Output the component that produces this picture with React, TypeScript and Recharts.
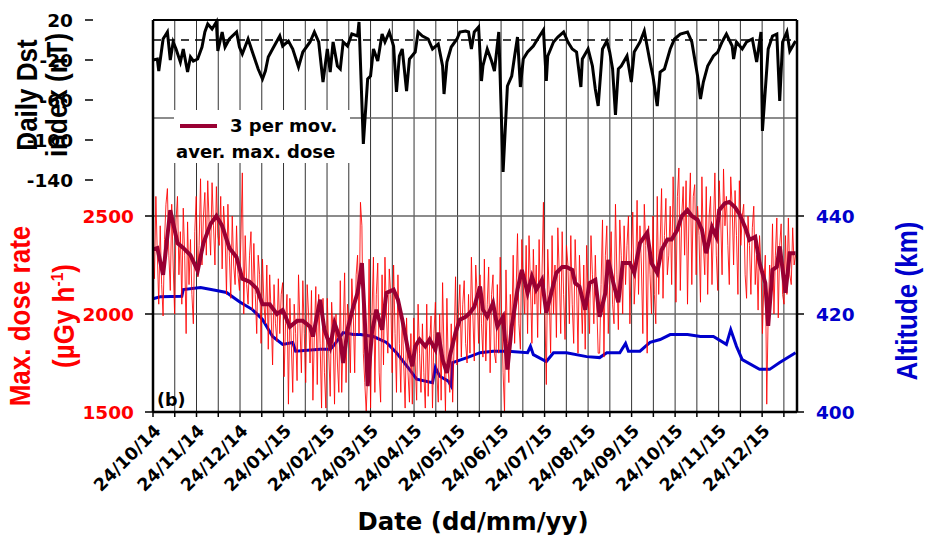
import React from 'react';
import { ComposedChart, Line, XAxis, YAxis, CartesianGrid, ReferenceLine, Legend } from 'recharts';

// x values are day offsets counted from 24/10/14
const dateLabels = [
  '24/10/14', '24/11/14', '24/12/14', '24/01/15', '24/02/15', '24/03/15', '24/04/15', '24/05/15',
  '24/06/15', '24/07/15', '24/08/15', '24/09/15', '24/10/15', '24/11/15', '24/12/15',
];
const dstTicks = [20, -20, -60, -100, -140];
const doseTicks = [1500, 2000, 2500];
const doseGridLines = [2000, 2500, 3000];
const altTicks = [400, 420, 440];

// daily Dst index (nT): [day, value]
const dstIndex: [number, number][] = [
  [0, -20], [3, -19], [4, -31], [7, 1], [10, 8], [12, -20], [14, -2], [16, -9], [19, -22], [21, -9],
  [24, -32], [26, -17], [28, -21], [31, -19], [34, -7], [36, 8], [38, 16], [41, 11], [44, 18], [45, -11],
  [48, 8], [50, -7], [53, 1], [58, 8], [60, -7], [62, -14], [66, 1], [69, -12], [73, -29], [76, -39],
  [78, -31], [80, -17], [83, -9], [88, 4], [90, -6], [94, -1], [97, -9], [101, -27], [104, -12], [109, -2],
  [112, 8], [115, -2], [118, -42], [121, -9], [123, -32], [125, -2], [128, -26], [130, -29], [132, -2], [135, -6],
  [138, 6], [142, 4], [143, 18], [146, -104], [149, -39], [151, -36], [153, -9], [156, -21], [159, 6], [161, -2],
  [164, 8], [167, -6], [169, -52], [171, -16], [173, -9], [176, -51], [178, -19], [182, -12], [184, 8], [187, 4],
  [191, 1], [194, -9], [198, -4], [201, -26], [202, -54], [204, -22], [207, -7], [211, 1], [213, 8], [217, 9],
  [219, 8], [221, -9], [223, 8], [226, 13], [228, -41], [229, -26], [232, -9], [235, -21], [237, -31], [240, 8],
  [243, -132], [246, -46], [249, -36], [251, -16], [253, 3], [255, -47], [257, -19], [260, -12], [264, -6], [267, 1],
  [271, 10], [273, -41], [274, -16], [278, -2], [281, 3], [285, 8], [288, -2], [291, -9], [294, -12], [297, -47],
  [298, -19], [302, -9], [305, -26], [307, -49], [309, -66], [312, -9], [315, -1], [317, -12], [319, -29], [321, -75],
  [323, -29], [325, -26], [329, -16], [332, -42], [334, -12], [338, -2], [341, 9], [345, -22], [347, -36], [350, -66],
  [352, -32], [355, -29], [359, -9], [362, 1], [366, 6], [371, 8], [374, -2], [378, -36], [380, -59], [382, -42],
  [385, -26], [389, -16], [392, -12], [395, -2], [398, 6], [402, -6], [403, -19], [405, -2], [409, -9], [412, -2],
  [416, 1], [419, -22], [422, 8], [423, -91], [427, -9], [430, 4], [433, 6], [435, -61], [437, -2], [440, 8],
  [442, -11], [444, -6], [446, -1],
];

// daily max. dose rate (uGy/h) from day 0, ten days per row
const maxDose = [
  2350, 2180, 2600, 2300, 2050, 2450, 2150, 1990, 2380, 2560,
  2640, 2300, 2120, 2560, 2250, 2000, 2480, 2600, 2200, 2420,
  2050, 2540, 2300, 1900, 2470, 2150, 2380, 2100, 1950, 2420,
  2600, 2190, 2350, 2690, 2250, 2500, 2620, 2300, 2680, 2450,
  2300, 2670, 2450, 2250, 2650, 2400, 2350, 2600, 2230, 2550,
  2420, 2100, 2560, 2300, 2080, 2500, 2250, 2150, 2450, 2200,
  2120, 2380, 2720, 2000, 2400, 2150, 2050, 2300, 2420, 2020,
  2360, 2100, 1900, 2300, 2200, 1850, 2280, 2050, 1950, 2250,
  1820, 2200, 2000, 1740, 2150, 1950, 1860, 2180, 1900, 2100,
  2160, 1680, 1950, 2100, 1540, 2080, 1850, 1600, 2050, 1900,
  1660, 2200, 1950, 1700, 2170, 1900, 1650, 2150, 2000, 1750,
  2120, 1560, 1900, 2140, 1640, 2100, 1850, 1520, 2080, 1700,
  1520, 2080, 1800, 1580, 2060, 1900, 1540, 2000, 1750, 1600,
  2170, 1600, 1900, 2210, 1650, 2050, 1950, 1700, 2180, 2000,
  1700, 2200, 2300, 1900, 2570, 2450, 1800, 1650, 1500, 1700,
  2280, 1520, 2000, 2290, 1600, 2100, 2260, 1700, 1550, 2200,
  1740, 2290, 2000, 1800, 2230, 2100, 1700, 2250, 1900, 1600,
  2200, 1850, 1600, 2000, 1750, 1520, 1980, 1700, 1550, 1900,
  1540, 1980, 1750, 1560, 2050, 1800, 1600, 1950, 1700, 1520,
  2050, 1580, 1850, 1990, 1520, 1900, 2060, 1700, 1550, 2000,
  1560, 2160, 1800, 1500, 2080, 1700, 1600, 1950, 1550, 1850,
  2190, 1740, 2000, 2150, 1780, 2050, 2170, 1850, 1750, 2100,
  1800, 2290, 2000, 1760, 2250, 2100, 1850, 2200, 1950, 1780,
  2280, 1760, 2050, 2240, 1700, 2100, 2200, 1800, 1750, 2150,
  1800, 2290, 2000, 1700, 1500, 2225, 1850, 1650, 2100, 1900,
  2300, 1850, 2100, 2410, 1950, 1820, 2380, 2150, 2000, 2350,
  1900, 2400, 2150, 1850, 2330, 2050, 2250, 1880, 2380, 2000,
  2200, 2570, 2000, 1640, 2330, 2100, 1800, 2400, 2000, 2250,
  1880, 2440, 2200, 1900, 2420, 2100, 1870, 2350, 2250, 1950,
  2400, 2050, 1850, 2380, 2150, 1800, 2300, 2100, 1900, 2250,
  1820, 2350, 2100, 1900, 2400, 2200, 1950, 2300, 2050, 1800,
  1800, 2150, 2480, 1780, 2300, 2450, 1900, 2150, 2420, 2050,
  1950, 2560, 2200, 1920, 2480, 2300, 2000, 2450, 2150, 2350,
  2500, 1950, 2300, 2520, 2050, 2200, 2580, 2100, 2450, 2250,
  1900, 2560, 2350, 1800, 2450, 2200, 2000, 2500, 2100, 1950,
  2600, 2100, 2350, 2640, 2080, 2400, 2590, 2200, 2300, 2550,
  2150, 2700, 2400, 2060, 2600, 2745, 2120, 2500, 2650, 2300,
  2680, 2050, 2500, 2720, 2150, 2600, 2660, 2200, 2550, 2400,
  2060, 2700, 2350, 2200, 2650, 2100, 2500, 2600, 2150, 2450,
  2720, 2300, 2120, 2680, 2500, 2200, 2740, 2450, 2600, 2350,
  2150, 2700, 2550, 2250, 2630, 2400, 2100, 2680, 2350, 2500,
  2560, 2200, 2080, 2500, 2350, 2100, 2440, 2550, 2150, 2300,
  2020, 2400, 2250, 1900, 2150, 2300, 1540, 2000, 2250, 2100,
  2460, 2000, 2300, 2490, 1980, 2350, 2460, 2100, 2050, 2400,
  2100, 2490, 2200, 2150, 2440, 2250, 2300,
];

// 3 period moving average of max. dose rate: [day, value]
const doseMovAvg: [number, number][] = [
  [0, 2330], [3, 2337], [7, 2200], [12, 2530], [17, 2362], [21, 2337], [26, 2300], [31, 2220], [35, 2362], [40, 2460],
  [44, 2500], [48, 2450], [53, 2337], [58, 2290], [62, 2180], [67, 2165], [72, 2130], [76, 2050], [81, 2050], [86, 2000],
  [90, 2020], [95, 1935], [100, 1965], [104, 1965], [109, 1935], [111, 1885], [116, 2073], [119, 1920], [123, 1835], [126, 1954],
  [130, 1870], [132, 1750], [135, 1920], [139, 2037], [142, 2108], [145, 2260], [147, 1971], [149, 1632], [152, 1905], [155, 2022],
  [159, 1920], [162, 2108], [167, 2124], [170, 2073], [173, 1971], [177, 1818], [180, 1733], [182, 1835], [185, 1870], [189, 1835],
  [192, 1870], [196, 1818], [198, 1905], [201, 1767], [204, 1700], [206, 1784], [210, 1905], [213, 1971], [217, 1986], [220, 2006],
  [223, 2037], [227, 2140], [229, 2022], [232, 1986], [236, 2056], [239, 1937], [243, 1986], [246, 1717], [249, 1937], [253, 2124],
  [256, 2225], [260, 2108], [263, 2190], [266, 2124], [270, 2174], [273, 2006], [277, 2124], [280, 2210], [284, 2240], [287, 2240],
  [291, 2225], [293, 2158], [296, 2140], [300, 2022], [303, 2158], [307, 2174], [310, 1986], [314, 2108], [316, 2276], [319, 2174],
  [323, 2060], [326, 2260], [331, 2260], [334, 2210], [338, 2362], [343, 2414], [346, 2260], [350, 2210], [353, 2327], [357, 2380],
  [360, 2380], [364, 2430], [367, 2500], [371, 2530], [374, 2500], [378, 2480], [381, 2430], [384, 2310], [388, 2443], [391, 2394],
  [393, 2530], [397, 2565], [400, 2572], [404, 2545], [407, 2510], [411, 2443], [414, 2378], [418, 2394], [421, 2260], [425, 2158],
  [427, 1940], [430, 2225], [433, 2240], [435, 2345], [439, 2108], [442, 2310], [446, 2310],
];

// ISS altitude (km): [day, value]
const altitude: [number, number][] = [
  [0, 423.1], [5, 423.5], [20, 423.6], [21, 425.0], [33, 425.4], [44, 424.8], [51, 424.4], [60, 422.5], [69, 420.9], [76, 418.9],
  [83, 415.4], [90, 413.8], [97, 414.2], [99, 412.4], [116, 412.8], [123, 412.8], [125, 413.4], [132, 416.2], [139, 415.8], [144, 415.8],
  [153, 415.4], [162, 414.2], [169, 412.1], [178, 408.7], [183, 406.7], [194, 406.0], [196, 409.1], [199, 407.3], [205, 406.3], [207, 405.3],
  [208, 410.1], [218, 411.1], [227, 412.1], [236, 412.4], [246, 412.4], [260, 412.1], [262, 413.4], [264, 411.7], [273, 410.3], [278, 412.1],
  [287, 412.1], [301, 411.3], [310, 411.1], [315, 412.1], [324, 412.1], [328, 414.0], [330, 412.4], [338, 412.4], [345, 414.2], [352, 414.8],
  [359, 415.8], [371, 415.8], [380, 415.4], [389, 415.4], [398, 413.8], [401, 416.8], [405, 413.4], [409, 410.7], [421, 408.7], [428, 408.7],
  [435, 410.1], [446, 412.1],
];

const DAY_MAX = 447;
const GRID_STEP = 15.1; // half-month tick spacing, every second tick is labelled
const gridTicks = Array.from({ length: 30 }, (_, k) => k * GRID_STEP);

const MA_NAME = '3 per mov. aver. max. dose';
const NUM_FONT = '"DejaVu Sans", sans-serif';
const TITLE_FONT = '"Liberation Sans", Arial, sans-serif';
const RED = '#ff0000';
const BLUE = '#0000cc';
const MA_COLOR = '#990033';

const toPoints = (pairs: [number, number][]) => pairs.map(([day, v]) => ({ day, v }));
const dstData = toPoints(dstIndex);
const maData = toPoints(doseMovAvg);
const altData = toPoints(altitude);
const doseData = maxDose.map((v, day) => ({ day, v }));

const tickFont = (fill: string, size = 18.5) => ({ fontFamily: NUM_FONT, fontWeight: 700, fontSize: size, fill });

const LegendBox = (props: any) => {
  const item = (props.payload || []).find((p: any) => p.value === MA_NAME);
  const color = item ? item.color : MA_COLOR;
  return (
    <div style={{ width: 176, height: 53, background: '#fff', position: 'relative', fontFamily: NUM_FONT, fontWeight: 700, fontSize: 18, color: '#000', lineHeight: '27px' }}>
      <div style={{ position: 'absolute', left: 6, top: 14, width: 37, height: 3.5, background: color }} />
      <div style={{ position: 'absolute', left: 56, top: 2, whiteSpace: 'nowrap' }}>3 per mov.</div>
      <div style={{ position: 'absolute', left: 2, top: 28, whiteSpace: 'nowrap' }}>aver. max. dose</div>
    </div>
  );
};

const VTitle = ({ x, y, color, lines, gap }: { x: number; y: number; color: string; lines: React.ReactNode[]; gap: number }) => (
  <div style={{ position: 'absolute', left: x, top: y, width: 0, height: 0, transform: 'scaleX(1.1) rotate(-90deg)' }}>
    <div style={{ position: 'absolute', left: 0, top: 0, transform: 'translate(-50%, -50%)', whiteSpace: 'nowrap', textAlign: 'center', fontFamily: TITLE_FONT, fontWeight: 700, fontSize: 26, lineHeight: `${gap}px`, color }}>
      {lines.map((l, i) => <div key={i}>{l}</div>)}
    </div>
  </div>
);

export default function App() {
  return (
    <div style={{ position: 'relative', width: 928, height: 538, background: '#fff' }}>
      <style>{'body{margin:0}'}</style>
      <ComposedChart width={928} height={538} margin={{ top: 20, right: 71, bottom: 66, left: 92 }}>
        <CartesianGrid xAxisId="x" yAxisId="dose" horizontal={false} stroke="#333" strokeWidth={1} />
        <XAxis
          xAxisId="x" type="number" dataKey="day" domain={[0, DAY_MAX]} ticks={gridTicks} interval={0}
          tickFormatter={(_v: number, i: number) => (i % 2 === 0 ? dateLabels[i / 2] ?? '' : '')}
          angle={-45} textAnchor="end" height={60} tickSize={5} tickMargin={6}
          tickLine={{ stroke: '#000', strokeWidth: 1.5 }} axisLine={{ stroke: '#000', strokeWidth: 2.5 }}
          tick={tickFont('#000', 17.5)}
        />
        <YAxis
          yAxisId="dst" type="number" domain={[-372, 20]} ticks={dstTicks} interval={0} width={1}
          axisLine={false} tickSize={8} tickMargin={12} tickLine={{ stroke: '#000', strokeWidth: 1.5 }} tick={tickFont('#000')}
        />
        <YAxis
          yAxisId="dose" type="number" domain={[1500, 3500]} ticks={doseTicks} interval={0} width={60}
          axisLine={{ stroke: '#000', strokeWidth: 2.5 }} tickSize={8} tickMargin={11} tickLine={{ stroke: '#000', strokeWidth: 1.5 }} tick={tickFont(RED)}
        />
        <YAxis
          yAxisId="alt" orientation="right" type="number" domain={[400, 480]} ticks={altTicks} interval={0} width={60}
          axisLine={{ stroke: '#000', strokeWidth: 2.5 }} tickSize={7} tickMargin={12} tickLine={{ stroke: '#000', strokeWidth: 1.5 }} tick={tickFont(BLUE)}
        />
        {doseGridLines.map((g) => (
          <ReferenceLine key={g} xAxisId="x" yAxisId="dose" y={g} stroke="#666" strokeWidth={1.5} />
        ))}
        <ReferenceLine xAxisId="x" yAxisId="dose" y={3500} stroke="#000" strokeWidth={2} />
        <ReferenceLine xAxisId="x" yAxisId="dst" y={0} stroke="#000" strokeWidth={1.5} strokeDasharray="8 6" />
        <Line xAxisId="x" yAxisId="alt" data={altData} dataKey="v" name="Altitude" stroke={BLUE} strokeWidth={3} dot={false} legendType="none" isAnimationActive={false} />
        <Line xAxisId="x" yAxisId="dose" data={doseData} dataKey="v" name="Max. dose rate" stroke={RED} strokeWidth={1} strokeOpacity={0.85} dot={false} legendType="none" isAnimationActive={false} />
        <Line xAxisId="x" yAxisId="dose" data={maData} dataKey="v" name={MA_NAME} stroke={MA_COLOR} strokeWidth={4} dot={false} isAnimationActive={false} />
        <Line xAxisId="x" yAxisId="dst" data={dstData} dataKey="v" name="Dst" stroke="#000" strokeWidth={3} dot={false} legendType="none" isAnimationActive={false} />
        <Legend content={LegendBox} layout="horizontal" verticalAlign="middle" align="center" wrapperStyle={{ left: 174, top: 110, width: 176, height: 53 }} />
      </ComposedChart>

      <VTitle x={42} y={95} color="#000" gap={28} lines={['Daily Dst', 'index (nT)']} />
      <VTitle x={42} y={316} color={RED} gap={34} lines={['Max. dose rate', <span>(µGy h<sup style={{ fontSize: '0.6em' }}>-1</sup>)</span>]} />
      <VTitle x={907} y={301} color={BLUE} gap={26} lines={['Altitude (km)']} />
      <div style={{ position: 'absolute', left: 157, top: 388, fontFamily: NUM_FONT, fontWeight: 700, fontSize: 17.5, lineHeight: '24px', color: '#000' }}>(b)</div>
      <div style={{ position: 'absolute', left: 473, top: 521, transform: 'translate(-50%, -50%)', whiteSpace: 'nowrap', fontFamily: NUM_FONT, fontWeight: 700, fontSize: 24.4, color: '#000' }}>Date (dd/mm/yy)</div>
    </div>
  );
}
